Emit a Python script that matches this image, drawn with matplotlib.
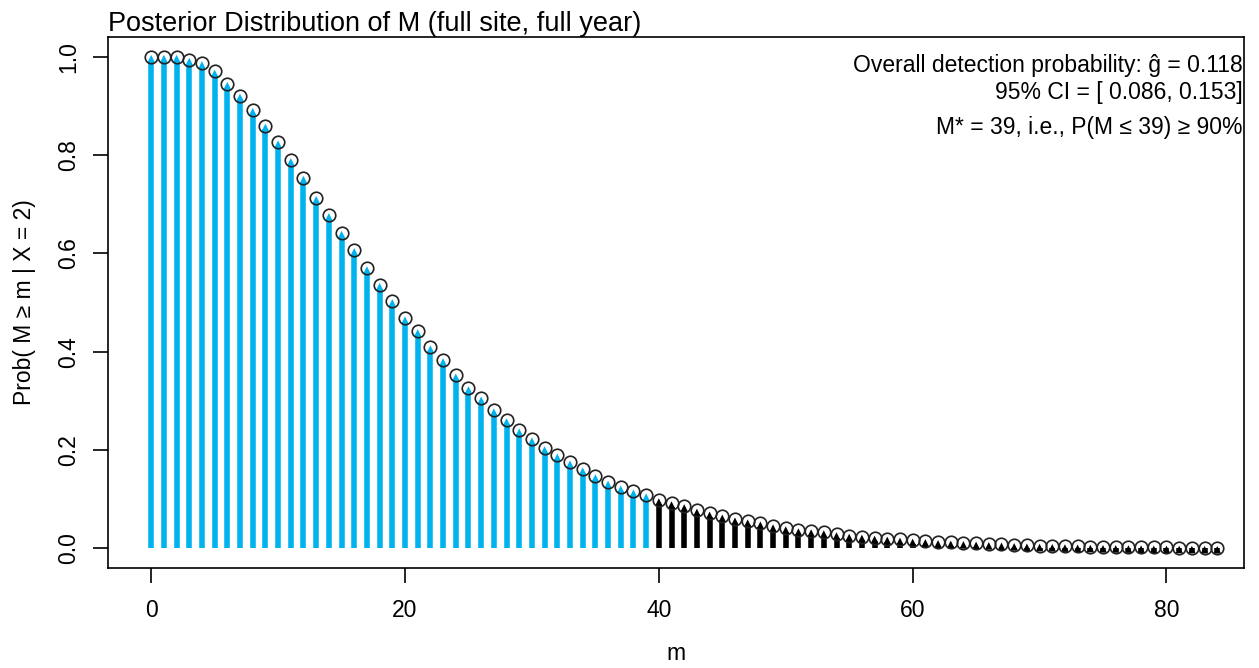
import matplotlib
matplotlib.use("Agg")
import matplotlib.pyplot as plt
import numpy as np

plt.rcParams["font.family"] = ["Liberation Sans", "DejaVu Sans"]

# P(M >= m | X = 2)
m_vals = list(range(0, 85))
prob = [
    1.000, 1.000, 1.000, 0.994, 0.987, 0.970, 0.945, 0.921, 0.892, 0.860,
    0.826, 0.790, 0.754, 0.713, 0.678, 0.642, 0.607, 0.570, 0.536, 0.503,
    0.468, 0.442, 0.409, 0.383, 0.352, 0.326, 0.305, 0.281, 0.261, 0.240,
    0.222, 0.204, 0.189, 0.175, 0.161, 0.147, 0.134, 0.124, 0.116, 0.108,
    0.098, 0.092, 0.086, 0.077, 0.071, 0.065, 0.059, 0.055, 0.051, 0.045,
    0.041, 0.037, 0.035, 0.033, 0.029, 0.026, 0.024, 0.022, 0.020, 0.018,
    0.016, 0.015, 0.013, 0.012, 0.011, 0.010, 0.009, 0.008, 0.007, 0.006,
    0.0055, 0.005, 0.0045, 0.004, 0.0035, 0.003, 0.0028, 0.0025, 0.0022, 0.002,
    0.0018, 0.0016, 0.0014, 0.0012, 0.001,
]
m_star = 39
x_ticks = [0, 20, 40, 60, 80]
y_ticks = [0.0, 0.2, 0.4, 0.6, 0.8, 1.0]
title = "Posterior Distribution of M (full site, full year)"
info_lines = [
    "Overall detection probability: \u011d = 0.118",
    "95% CI = [ 0.086, 0.153]",
    "M* = 39, i.e., P(M \u2264 39) \u2265 90%",
]

blue = "#00B2EE"
m_arr = np.array(m_vals)
p_arr = np.array(prob)
colors = [blue if m <= m_star else "black" for m in m_vals]

fig = plt.figure(figsize=(12.59, 6.68), dpi=100)
ax = fig.add_axes([0.0858, 0.1497, 0.9022, 0.7949])

# stems (arrows from 0 up to the value)
ax.vlines(m_arr, 0, p_arr - 0.008, colors=colors, linewidth=4.0)
ax.scatter(m_arr, p_arr - 0.004, marker="^", s=30, c=colors, linewidths=0, zorder=3)
ax.plot(m_arr, p_arr, linestyle="none", marker="o", markersize=9,
        markerfacecolor="none", markeredgecolor="#222222", markeredgewidth=1.2, zorder=4)

ax.set_xlim(-3.4, 86.1)
ax.set_ylim(-0.04, 1.04)
ax.set_xticks(x_ticks)
ax.set_yticks(y_ticks)
ax.set_yticklabels([f"{v:.1f}" for v in y_ticks], rotation=90, va="center")
ax.tick_params(labelsize=16.5, length=11, width=1.2)
ax.tick_params(axis="x", pad=11)
ax.tick_params(axis="y", pad=9)
for s in ax.spines.values():
    s.set_linewidth(1.2)

ax.set_xlabel("m", fontsize=16.5, labelpad=15)
ax.set_ylabel("Prob( M \u2265 m | X = 2)", fontsize=16.5, labelpad=15)
ax.set_title(title, fontsize=19.5, loc="left", pad=2)

ax.text(0.999, 0.947, info_lines[0], transform=ax.transAxes,
        ha="right", va="center", fontsize=16.5)
ax.text(0.999, 0.896, info_lines[1], transform=ax.transAxes,
        ha="right", va="center", fontsize=16.5)
ax.text(0.999, 0.830, info_lines[2], transform=ax.transAxes,
        ha="right", va="center", fontsize=16.5)

fig.savefig("out.png", dpi=100)
